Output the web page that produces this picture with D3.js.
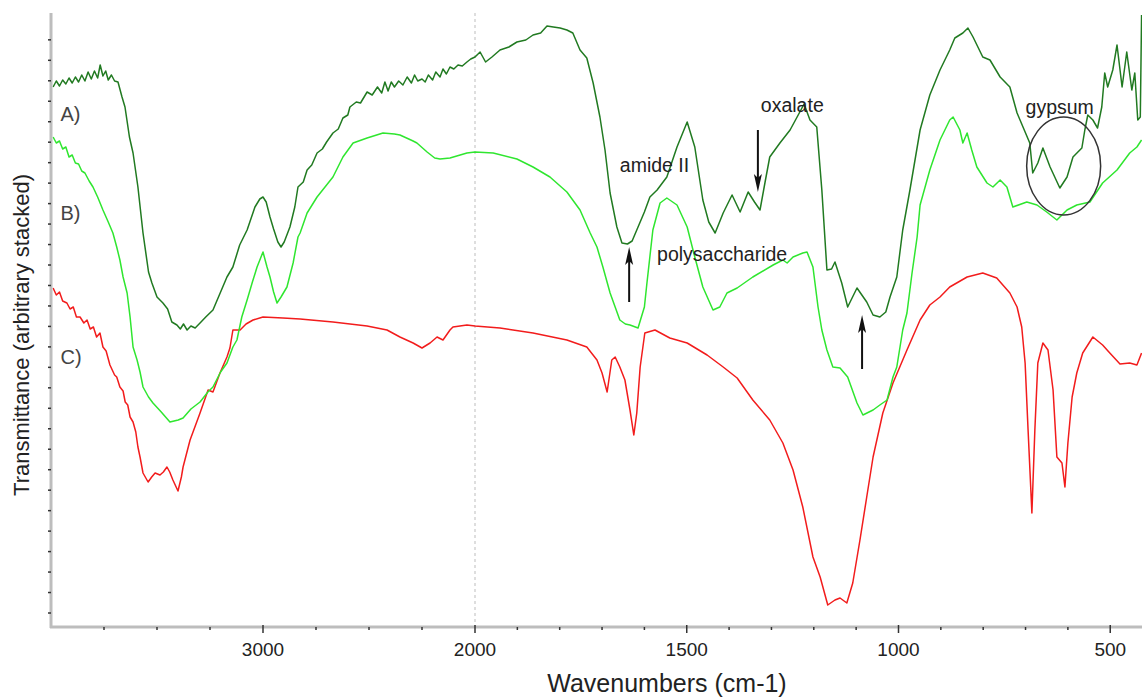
<!DOCTYPE html>
<html>
<head>
<meta charset="utf-8">
<script src="https://cdn.jsdelivr.net/npm/d3@7"></script>
<style>
  body { margin: 0; background: #fff; }
  text { font-family: Arial, "Liberation Sans", sans-serif; }
</style>
</head>
<body>
<svg width="1142" height="699"></svg>
<script>
// FTIR spectra: [wavenumber (cm-1), transmittance in arbitrary stacked units]
var specA = [[3990,540],[3975,546],[3960,541],[3945,547],[3930,543],[3915,549],[3900,544],[3885,550],[3870,545],[3855,552],[3840,546],[3825,555],[3810,548],[3795,556],[3780,549],[3768,562],[3755,551],[3742,556],[3730,547],[3715,552],[3700,546],[3684,545],[3665,530],[3651,520],[3630,490],[3613,474],[3590,440],[3566,394],[3540,355],[3524,344],[3500,330],[3472,324],[3450,318],[3430,305],[3406,302],[3390,298],[3375,303],[3358,297],[3340,301],[3320,299],[3297,304],[3270,310],[3236,317],[3200,335],[3170,350],[3142,360],[3110,382],[3075,397],[3038,420],[3015,428],[3000,430],[2985,425],[2967,410],[2950,398],[2930,385],[2915,380],[2900,385],[2873,400],[2850,420],[2835,440],[2810,445],[2792,457],[2770,462],[2745,474],[2720,478],[2700,485],[2670,494],[2645,498],[2623,509],[2600,512],[2590,520],[2560,525],[2540,524],[2509,535],[2485,532],[2460,540],[2440,534],[2425,545],[2410,536],[2395,545],[2380,540],[2360,546],[2340,542],[2320,550],[2300,544],[2285,552],[2270,546],[2250,548],[2235,545],[2220,552],[2200,547],[2185,555],[2165,550],[2151,558],[2135,553],[2118,560],[2100,558],[2080,562],[2060,561],[2038,565],[2020,568],[2000,570],[1988,575],[1975,565],[1960,570],[1941,577],[1920,580],[1901,585],[1880,587],[1863,592],[1845,594],[1830,601],[1815,600],[1799,599],[1783,597],[1769,594],[1752,577],[1736,569],[1721,544],[1705,510],[1693,477],[1681,434],[1665,400],[1653,384],[1640,383],[1629,386],[1618,397],[1600,415],[1587,430],[1570,437],[1547,450],[1523,480],[1499,505],[1481,480],[1462,427],[1448,405],[1433,394],[1414,414],[1393,432],[1374,415],[1355,435],[1340,425],[1327,417],[1315,445],[1304,470],[1280,484],[1256,497],[1233,515],[1223,523],[1209,507],[1193,500],[1181,437],[1169,357],[1158,358],[1150,365],[1134,344],[1120,320],[1098,339],[1075,325],[1060,312],[1044,310],[1030,315],[1020,330],[1004,350],[990,397],[973,437],[949,497],[926,532],[902,557],[879,577],[867,589],[848,594],[836,599],[824,590],[801,570],[784,567],[760,550],[737,540],[720,514],[706,500],[690,484],[683,454],[671,464],[659,479],[642,460],[619,439],[602,450],[588,470],[567,479],[560,497],[553,512],[541,507],[530,499],[520,520],[513,554],[506,540],[494,557],[484,582],[472,540],[461,575],[449,537],[442,554],[435,507],[429,510],[426,612]];

var specB = [[3990,490],[3975,484],[3960,486],[3945,478],[3930,480],[3915,470],[3900,472],[3885,464],[3870,463],[3855,456],[3840,454],[3820,446],[3802,440],[3780,430],[3755,417],[3730,405],[3708,394],[3690,380],[3675,367],[3660,350],[3641,334],[3627,310],[3613,280],[3594,267],[3580,255],[3566,240],[3540,230],[3519,224],[3480,215],[3439,205],[3400,207],[3377,209],[3340,218],[3297,225],[3260,235],[3236,240],[3200,255],[3170,264],[3142,280],[3123,287],[3100,310],[3075,327],[3050,345],[3028,360],[3000,375],[2981,360],[2967,350],[2950,335],[2934,324],[2915,330],[2887,340],[2858,364],[2835,390],[2825,394],[2792,414],[2745,430],[2700,442],[2670,450],[2623,470],[2575,484],[2509,489],[2434,494],[2380,493],[2354,492],[2292,486],[2274,484],[2226,475],[2190,469],[2165,468],[2118,469],[2070,472],[2038,474],[2000,475],[1957,474],[1901,468],[1863,460],[1823,450],[1783,435],[1752,417],[1728,394],[1712,380],[1698,360],[1681,334],[1658,307],[1645,303],[1634,302],[1615,299],[1600,320],[1594,344],[1580,397],[1563,424],[1547,429],[1523,422],[1499,400],[1481,370],[1462,340],[1438,317],[1422,320],[1405,334],[1381,339],[1344,350],[1296,362],[1273,367],[1263,364],[1249,370],[1226,374],[1216,375],[1202,360],[1190,320],[1181,297],[1169,277],[1155,260],[1138,259],[1120,250],[1098,224],[1084,212],[1060,217],[1044,222],[1027,227],[1013,250],[1004,260],[990,297],[980,314],[968,354],[956,390],[949,422],[926,457],[902,487],[879,507],[871,510],[855,497],[848,484],[838,494],[827,477],[815,460],[791,444],[777,440],[760,447],[744,440],[730,420],[697,425],[673,422],[650,415],[626,407],[602,417],[579,422],[548,425],[518,444],[484,457],[454,474],[437,480],[426,487]];

var specC = [[3990,339],[3975,332],[3960,335],[3945,326],[3925,324],[3910,318],[3895,320],[3880,310],[3863,310],[3845,304],[3830,307],[3815,298],[3800,300],[3785,290],[3769,294],[3755,280],[3740,276],[3722,262],[3700,252],[3690,250],[3675,240],[3660,236],[3650,225],[3638,222],[3627,210],[3613,205],[3600,195],[3590,180],[3580,170],[3566,154],[3542,145],[3525,150],[3509,154],[3486,152],[3470,155],[3453,160],[3440,155],[3425,147],[3401,136],[3385,150],[3377,160],[3344,187],[3297,214],[3259,237],[3236,235],[3203,254],[3170,270],[3156,279],[3142,297],[3108,297],[3080,303],[3047,307],[3000,310],[2906,309],[2825,308],[2670,305],[2509,301],[2415,297],[2354,290],[2292,284],[2250,279],[2212,284],[2179,290],[2151,287],[2118,297],[2104,300],[2038,302],[2000,301],[1941,299],[1863,294],[1783,287],[1736,280],[1712,267],[1700,254],[1688,235],[1677,267],[1669,270],[1658,260],[1646,247],[1634,217],[1625,192],[1618,214],[1610,260],[1599,294],[1575,297],[1540,289],[1499,284],[1452,272],[1414,260],[1381,249],[1344,227],[1304,207],[1273,184],[1249,157],[1226,120],[1202,70],[1185,50],[1167,22],[1150,27],[1138,29],[1122,24],[1108,44],[1091,87],[1075,130],[1060,170],[1037,214],[1013,244],[980,277],[949,307],[926,322],[902,330],[879,340],[838,350],[801,354],[768,349],[737,334],[720,320],[709,300],[701,264],[694,197],[685,114],[678,197],[671,264],[659,284],[647,277],[635,237],[626,170],[614,164],[607,140],[600,184],[590,230],[579,254],[565,274],[541,290],[518,282],[501,274],[477,263],[454,264],[437,262],[426,274]];

var majorTicks = [3000, 2000, 1500, 1000, 500];
var minorTicks = [3750, 3500, 3250, 2750, 2500, 2250, 1900, 1800, 1700, 1600, 1400, 1300, 1200, 1100, 900, 800, 700, 600];

// series labels and peak annotations (wavenumber, value)
var seriesLabels = [["A)", 3955, 506], ["B)", 3955, 407], ["C)", 3955, 263]];
var notes = [["amide II", 1658, 455], ["oxalate", 1325, 515], ["polysaccharide", 1570, 366], ["gypsum", 700, 513]];
var arrows = [[1636, 325, 380], [1332, 497, 435], [1086, 258, 312]]; // wavenumber, tail, head

var svg = d3.select("svg"),
    width = +svg.attr("width"),
    height = +svg.attr("height");

var plotLeft = 51, plotRight = 1142, plotTop = 13, plotBottom = 627;

// split axis: 4000-2000 compressed, 2000-425 expanded
var x = d3.scaleLinear().domain([4000, 2000, 425]).range([plotLeft, 475, plotRight]);
var y = d3.scaleLinear().domain([0, 614]).range([plotBottom, plotTop]);

svg.append("defs").append("clipPath").attr("id", "plot")
  .append("rect").attr("x", plotLeft).attr("y", 0)
    .attr("width", plotRight - plotLeft).attr("height", plotBottom);

// dashed marker at the scale break
svg.append("line")
    .attr("x1", x(2000)).attr("x2", x(2000))
    .attr("y1", plotTop).attr("y2", plotBottom)
    .attr("stroke", "#c8c8c8").attr("stroke-width", 1.2)
    .attr("stroke-dasharray", "3,3");

var line = d3.line()
    .x(function(d) { return x(d[0]); })
    .y(function(d) { return y(d[1]); });

var g = svg.append("g").attr("clip-path", "url(#plot)");
[[specC, "#f21c1c"], [specB, "#2fe62f"], [specA, "#217a21"]].forEach(function(s) {
  g.append("path")
      .datum(s[0])
      .attr("fill", "none")
      .attr("stroke", s[1])
      .attr("stroke-width", 1.5)
      .attr("stroke-linejoin", "round")
      .attr("d", line);
});

// axes
svg.append("line").attr("x1", plotLeft).attr("x2", plotLeft).attr("y1", plotTop).attr("y2", plotBottom + 1)
    .attr("stroke", "#bdbdbd").attr("stroke-width", 3);
svg.append("line").attr("x1", plotLeft - 1).attr("x2", plotRight).attr("y1", plotBottom).attr("y2", plotBottom)
    .attr("stroke", "#bdbdbd").attr("stroke-width", 3);

svg.append("g").selectAll("line")
  .data(d3.range(14, 600, 20.47))
  .enter().append("line")
    .attr("x1", plotLeft - 3).attr("x2", plotLeft)
    .attr("y1", function(d) { return y(d); }).attr("y2", function(d) { return y(d); })
    .attr("stroke", "#333").attr("stroke-width", 1.5);

svg.append("g").selectAll("line")
  .data(minorTicks)
  .enter().append("line")
    .attr("x1", function(d) { return x(d); }).attr("x2", function(d) { return x(d); })
    .attr("y1", plotBottom).attr("y2", plotBottom + 3)
    .attr("stroke", "#333").attr("stroke-width", 1.5);

svg.append("g").selectAll("line")
  .data(majorTicks)
  .enter().append("line")
    .attr("x1", function(d) { return x(d); }).attr("x2", function(d) { return x(d); })
    .attr("y1", plotBottom - 2).attr("y2", plotBottom + 6)
    .attr("stroke", "#333").attr("stroke-width", 1.5);

svg.append("g").selectAll("text")
  .data(majorTicks)
  .enter().append("text")
    .attr("x", function(d) { return x(d); })
    .attr("y", 656)
    .attr("text-anchor", "middle")
    .attr("font-size", 19)
    .attr("fill", "#222")
    .text(function(d) { return d; });

svg.append("text")
    .attr("x", 667).attr("y", 692)
    .attr("text-anchor", "middle")
    .attr("font-size", 25)
    .attr("fill", "#222")
    .text("Wavenumbers (cm-1)");

svg.append("text")
    .attr("transform", "translate(29,335) rotate(-90)")
    .attr("text-anchor", "middle")
    .attr("font-size", 22)
    .attr("fill", "#222")
    .text("Transmittance (arbitrary stacked)");

svg.append("g").selectAll("text")
  .data(seriesLabels)
  .enter().append("text")
    .attr("x", function(d) { return x(d[1]); })
    .attr("y", function(d) { return y(d[2]); })
    .attr("font-size", 20)
    .attr("fill", "#444")
    .text(function(d) { return d[0]; });

svg.append("g").selectAll("text")
  .data(notes)
  .enter().append("text")
    .attr("x", function(d) { return x(d[1]); })
    .attr("y", function(d) { return y(d[2]); })
    .attr("font-size", 19.5)
    .attr("fill", "#222")
    .text(function(d) { return d[0]; });

// arrows: shaft plus a long narrow head drawn at the tip
var arrow = svg.append("g").selectAll("g")
  .data(arrows)
  .enter().append("g");

arrow.append("line")
    .attr("x1", function(d) { return x(d[0]); }).attr("x2", function(d) { return x(d[0]); })
    .attr("y1", function(d) { return y(d[1]); })
    .attr("y2", function(d) { return y(d[2]) + (d[2] > d[1] ? 10 : -10); })
    .attr("stroke", "#111").attr("stroke-width", 2);

arrow.append("path")
    .attr("fill", "#111")
    .attr("d", function(d) {
      var tx = x(d[0]), ty = y(d[2]);
      var s = d[2] > d[1] ? 1 : -1;   // 1 = pointing up
      return "M" + tx + "," + ty +
             "L" + (tx - 4) + "," + (ty + s * 18) +
             "L" + tx + "," + (ty + s * 14) +
             "L" + (tx + 4) + "," + (ty + s * 18) + "Z";
    });

// gypsum ring
svg.append("ellipse")
    .attr("cx", x(610)).attr("cy", y(461))
    .attr("rx", 37).attr("ry", 49)
    .attr("fill", "none").attr("stroke", "#333").attr("stroke-width", 1.5);
</script>
</body>
</html>
